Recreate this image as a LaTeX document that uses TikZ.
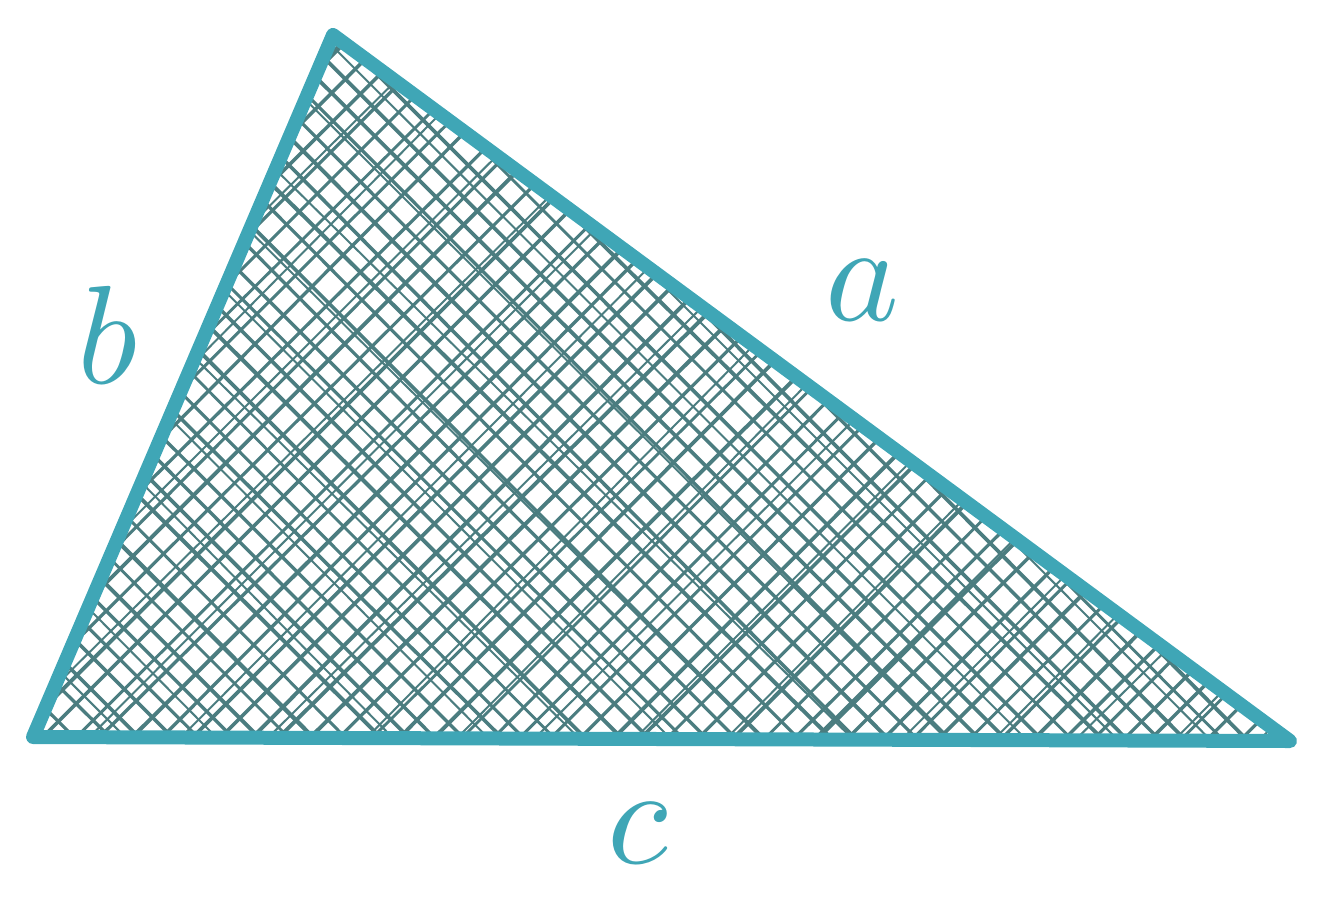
\documentclass[tikz,border=0pt]{standalone}
\usepackage{graphicx}
\usepackage{amsmath}
\definecolor{edge}{HTML}{3FA6B6}
\definecolor{hatch}{HTML}{4B7D80}
\tikzset{
  side/.style={draw=edge,line width=7pt,line join=round,line cap=round},
  hatchline/.style={draw=hatch},
  lbl/.style={text=edge,inner sep=0pt}
}
\newcommand{\biglbl}[1]{\scalebox{7}{$#1$}}
\begin{document}
\begin{tikzpicture}[x=0.5pt,y=-0.5pt]
\useasboundingbox (0,0) rectangle (1321,922);
\coordinate (A) at (333,35);
\coordinate (B) at (33,737);
\coordinate (C) at (1290,741);
\pgfmathsetseed{7}
\begin{scope}
\clip (A) -- (B) -- (C) -- cycle;
\foreach \k in {360,390,...,2060}{
  \pgfmathsetmacro{\ja}{rand*6}
  \pgfmathsetmacro{\jb}{rand*6}
  \pgfmathsetmacro{\w}{1.4+0.6*rnd}
  \draw[hatchline,line width=\w pt] (\k+\ja,0) -- (\k-922+\jb,922);
}
\foreach \k in {-720,-690,...,560}{
  \pgfmathsetmacro{\ja}{rand*6}
  \pgfmathsetmacro{\jb}{rand*6}
  \pgfmathsetmacro{\w}{1.4+0.6*rnd}
  \draw[hatchline,line width=\w pt] (\k+\ja,0) -- (\k+922+\jb,922);
}
\foreach \k in {380,470,...,2060}{
  \pgfmathsetmacro{\ja}{rand*8}
  \pgfmathsetmacro{\jb}{rand*8}
  \draw[hatchline,line width=1pt] (\k+\ja,0) -- (\k-922+\jb,922);
}
\foreach \k in {-700,-610,...,560}{
  \pgfmathsetmacro{\ja}{rand*8}
  \pgfmathsetmacro{\jb}{rand*8}
  \draw[hatchline,line width=1pt] (\k+\ja,0) -- (\k+922+\jb,922);
}
\end{scope}
\draw[side] (A) -- (B) -- (C) -- cycle;
\node[lbl] (la) at (862,290) {\biglbl{a}};
\node[lbl] (lb) at (108,335) {\biglbl{b}};
\node[lbl] (lc) at (638,833) {\biglbl{c}};
\end{tikzpicture}
\end{document}
